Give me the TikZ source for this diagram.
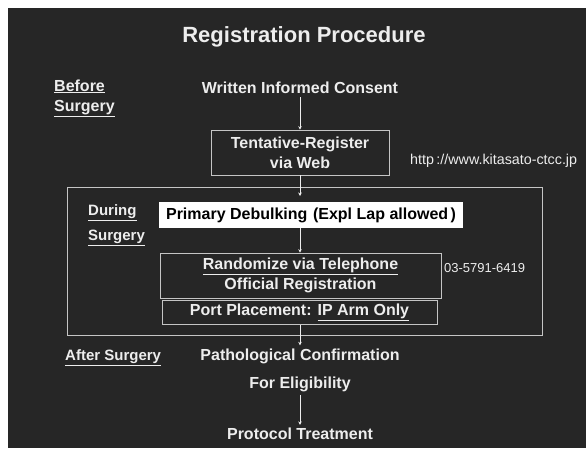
\documentclass[tikz,border=0pt]{standalone}
\usepackage{fontspec}
\setmainfont{Liberation Sans}
\usetikzlibrary{arrows.meta}
\definecolor{bg}{HTML}{262626}
\definecolor{fg}{HTML}{EDEDED}
\begin{document}
\begin{tikzpicture}[x=1pt,y=-1pt,
  txt/.style={text=fg,font=\bfseries\fontsize{16}{19}\selectfont,inner sep=0pt,align=center},
  lbl/.style={text=fg,font=\bfseries\fontsize{15}{25}\selectfont,inner sep=0pt,anchor=west,align=left},
  boxed/.style={txt,draw=fg!80!bg,line width=0.7pt},
  arr/.style={draw=fg,line width=0.6pt,-{Stealth[length=3.5pt,width=3.5pt]}},
  small/.style={text=fg,font=\fontsize{13}{15}\selectfont,inner sep=0pt,anchor=west}]
\useasboundingbox (0,0) rectangle (586,448);
\fill[white] (0,0) rectangle (586,448);
\fill[bg] (8,8) rectangle (586,448);
% title
\node[txt,font=\bfseries\fontsize{22}{26}\selectfont] (title) at (304,37) {Registration Procedure};
% before surgery
\node[lbl,font=\bfseries\fontsize{16}{20}\selectfont] (before) at (54,98) {\underline{Before}\\\underline{Surgery}};
\node[txt] (wic) at (300,88) {Written Informed Consent};
\node[boxed,minimum width=178,minimum height=45,font=\bfseries\fontsize{16}{20}\selectfont] (tent) at (300,152.5) {Tentative-Register\\via Web};
\node[small,font=\fontsize{14.3}{16}\selectfont] (url) at (410,161) {http\,://www.kitasato-ctcc.jp};
% during surgery
\node[draw=fg!80!bg,line width=0.8pt,minimum width=475,minimum height=148,inner sep=0pt] (phase) at (304.5,261) {};
\node[lbl] (during) at (88,213) {\underline{During}};
\node[lbl] (surg) at (88,238) {\underline{Surgery}};
\node[txt,fill=white,text=black,minimum width=304,minimum height=26] (prim) at (311,215) {Primary Debulking\hspace{0.35em}(Expl Lap allowed\hspace{0.15em})};
\node[boxed,minimum width=281,minimum height=45,font=\bfseries\fontsize{16}{20}\selectfont] (rand) at (300.5,275.5) {\underline{Randomize via Telephone}\\Official Registration};
\node[small] (tel) at (444,268) {03-5791-6419};
\node[boxed,minimum width=275,minimum height=24] (port) at (299.5,312.5) {Port Placement: \underline{IP Arm Only}};
% after surgery
\node[lbl] (after) at (65,358) {\underline{After Surgery}};
\node[txt] (patho) at (300,356) {Pathological Confirmation};
\node[txt] (elig) at (300,384) {For Eligibility};
\node[txt] (prot) at (300,434) {Protocol Treatment};
% connectors
\coordinate (a2) at (300,196);
\draw[arr] ([yshift=-3pt]wic.south) -- (tent.north);
\draw[arr] (tent.south) -- (a2);
\draw[arr] (prim.south -| a2) -- (rand.north -| a2);
\draw[arr] (port.south -| a2) -- ([yshift=3pt]patho.north);
\draw[arr] ([yshift=-3pt]elig.south) -- ([yshift=3pt]prot.north);
\end{tikzpicture}
\end{document}
